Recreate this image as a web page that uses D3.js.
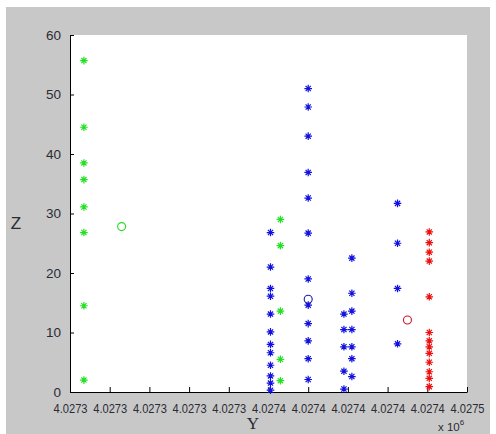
<!DOCTYPE html>
<html>
<head>
<meta charset="utf-8">
<script src="https://cdn.jsdelivr.net/npm/d3@7"></script>
<style>
  body { margin: 0; background: #fff; }
  text { font-family: Arial, "Liberation Sans", sans-serif; fill: #2b2b33; }
</style>
</head>
<body>
<div id="chart"></div>
<script>
// Data (Y = easting-like coordinate, Z = value)
const greenY = [4027267, 4027267, 4027267, 4027267, 4027267, 4027267, 4027267, 4027267,
                4027366, 4027366, 4027366, 4027366, 4027366];
const greenZ = [55.7, 44.5, 38.5, 35.7, 31.1, 26.8, 14.5, 2.0,
                29.0, 24.6, 13.6, 5.5, 1.9];
const blueY = [
  4027361, 4027361, 4027361, 4027361, 4027361, 4027361, 4027361, 4027361, 4027361, 4027361, 4027361, 4027361,
  4027380, 4027380, 4027380, 4027380, 4027380, 4027380, 4027380, 4027380, 4027380, 4027380, 4027380, 4027380,
  4027398, 4027398, 4027398, 4027398, 4027398,
  4027402, 4027402, 4027402, 4027402, 4027402, 4027402, 4027402,
  4027425, 4027425, 4027425, 4027425];
const blueZ = [
  26.8, 21.0, 17.4, 16.1, 13.1, 10.1, 8.0, 6.6, 4.5, 2.7, 1.5, 0.3,
  51.0, 47.9, 43.0, 36.9, 32.6, 26.7, 19.0, 14.6, 11.5, 8.6, 5.6, 2.1,
  13.1, 10.5, 7.6, 3.5, 0.5,
  22.5, 16.6, 13.6, 10.5, 7.6, 5.6, 2.6,
  31.7, 25.0, 17.4, 8.1];
const redY = [4027441, 4027441, 4027441, 4027441, 4027441, 4027441, 4027441,
              4027441, 4027441, 4027441, 4027441, 4027441, 4027441];
const redZ = [26.9, 25.1, 23.5, 22.0, 16.0, 10.0, 8.6, 7.6, 6.5, 5.0, 3.4, 2.3, 0.9];
// cluster centres (circles)
const centerY = [4027286, 4027380, 4027430];
const centerZ = [27.8, 15.6, 12.1];
const centerColor = ["#22dd22", "#1a1aa8", "#d01030"];
// ticks
const yTicks = [4027260, 4027280, 4027300, 4027320, 4027340, 4027360, 4027380, 4027400, 4027420, 4027440, 4027460];
const yTickLabels = ["4.0273", "4.0273", "4.0273", "4.0273", "4.0273", "4.0274", "4.0274", "4.0274", "4.0274", "4.0274", "4.0275"];
const zTicks = [0, 10, 20, 30, 40, 50, 60];

const W = 496, H = 434;
const margin = {top: 35, right: 29, bottom: 42, left: 70};
const width = W - margin.left - margin.right,
      height = H - margin.top - margin.bottom;

const svg = d3.select("#chart")
  .append("svg")
    .attr("width", W)
    .attr("height", H);

// figure background
svg.append("rect")
  .attr("x", 6).attr("y", 7)
  .attr("width", W - 12).attr("height", H - 7)
  .attr("fill", "#c8c8c8");

const g = svg.append("g")
  .attr("transform", `translate(${margin.left},${margin.top})`);

g.append("rect")
  .attr("width", width).attr("height", height)
  .attr("fill", "#fff");

const x = d3.scaleLinear().domain([4027260, 4027460]).range([0, width]);
const y = d3.scaleLinear().domain([0, 60]).range([height, 0]);

// X axis (ticks point inward)
const xAx = g.append("g")
  .attr("transform", `translate(0,${height})`)
  .call(d3.axisBottom(x).tickValues(yTicks)
    .tickFormat((d, i) => yTickLabels[i]).tickSizeInner(-5).tickSizeOuter(0).tickPadding(11));
xAx.select(".domain").attr("stroke", "#000");
xAx.selectAll("text").attr("font-size", 13.5).attr("fill", "#2b2b33")
  .attr("textLength", 34).attr("lengthAdjust", "spacingAndGlyphs");
xAx.selectAll("line").attr("stroke", "#000");

// Z axis
const yAx = g.append("g")
  .call(d3.axisLeft(y).tickValues(zTicks).tickSizeInner(-4).tickSizeOuter(0).tickPadding(9));
yAx.select(".domain").attr("stroke", "#000");
yAx.selectAll("text").attr("font-size", 13.5).attr("fill", "#2b2b33");
yAx.selectAll("line").attr("stroke", "#000");

// star marker (MATLAB '*')
const starPath = "M-3.8,0H3.8M0,-3.8V3.8M-2.6,-2.6L2.6,2.6M-2.6,2.6L2.6,-2.6";

function stars(ys, zs, color) {
  g.append("g")
    .selectAll("path")
    .data(ys.map((v, i) => [v, zs[i]]))
    .join("path")
      .attr("transform", ([a, b]) => `translate(${x(a)},${y(b)})`)
      .attr("d", starPath)
      .attr("stroke", color)
      .attr("stroke-width", 1.2)
      .attr("fill", "none");
}
stars(greenY, greenZ, "#22e022");
stars(blueY, blueZ, "#1010e0");
stars(redY, redZ, "#ee1010");

g.append("g")
  .selectAll("circle")
  .data(centerY.map((v, i) => [v, centerZ[i], centerColor[i]]))
  .join("circle")
    .attr("cx", d => x(d[0]))
    .attr("cy", d => y(d[1]))
    .attr("r", 4)
    .attr("fill", "none")
    .attr("stroke", d => d[2])
    .attr("stroke-width", 1.1);

// labels
svg.append("text")
  .attr("x", 253).attr("y", 429)
  .attr("text-anchor", "middle")
  .style("font-family", "'Liberation Serif', 'DejaVu Serif', serif")
  .attr("font-size", 17)
  .text("Y");

svg.append("text")
  .attr("x", 16).attr("y", 229)
  .attr("text-anchor", "middle")
  .attr("font-size", 17)
  .style("font-weight", 300)
  .text("Z");

const ex = svg.append("text")
  .attr("x", 438).attr("y", 431)
  .attr("font-size", 11.5);
ex.append("tspan").text("x 10");
ex.append("tspan").attr("dy", -6).attr("font-size", 8).text("6");
</script>
</body>
</html>
